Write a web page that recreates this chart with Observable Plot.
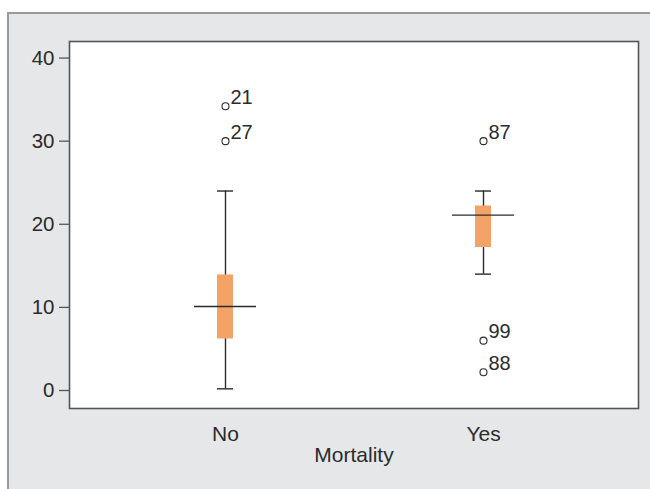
<!DOCTYPE html>
<html>
<head>
<meta charset="utf-8">
<script src="https://cdn.jsdelivr.net/npm/d3@7"></script>
<script src="https://cdn.jsdelivr.net/npm/@observablehq/plot@0.6"></script>
<style>
  html, body { margin: 0; padding: 0; background: white; }
  #wrap { position: relative; width: 650px; height: 489px; overflow: hidden; }
  #bg { position: absolute; left: 7px; top: 12px; right: -5px; bottom: -5px;
        background: #e6e7e9; border-top: 2px solid #9a9a9a; border-left: 2px solid #9a9a9a; }
  #chart { position: absolute; left: 0; top: 0; }
</style>
</head>
<body>
<div id="wrap"><div id="bg"></div><div id="chart"></div></div>
<script>
const groups = ["No", "Yes"];
const whiskerLow = [0.2, 14];
const q1 = [6.2, 17.2];
const median = [10.1, 21.1];
const q3 = [13.9, 22.2];
const whiskerHigh = [24, 24];

const outlierGroup = ["No", "No", "Yes", "Yes", "Yes"];
const outlierValue = [34.2, 30, 30, 6, 2.2];
const outlierLabel = ["21", "27", "87", "99", "88"];

const yTicks = [0, 10, 20, 30, 40];
const xTitle = "Mortality";

const stats = groups.map((g, i) => ({g, lo: whiskerLow[i], q1: q1[i], med: median[i], q3: q3[i], hi: whiskerHigh[i]}));
const outliers = outlierGroup.map((g, i) => ({g, v: outlierValue[i], label: outlierLabel[i]}));

const ink = "#2b2b2b";
const font = "Liberation Sans, Arial, Helvetica, sans-serif";

const chart = Plot.plot({
  width: 650,
  height: 489,
  marginLeft: 69,
  marginRight: 12,
  marginTop: 41,
  marginBottom: 81,
  style: {background: "transparent", fontFamily: font, color: ink},
  x: {type: "band", domain: groups, paddingInner: 0.938, paddingOuter: 0.5717},
  y: {domain: [-2.165, 41.99]},
  marks: [
    Plot.frame({fill: "white", stroke: "#555", strokeWidth: 1.6}),
    Plot.axisY({ticks: yTicks, tickSize: 10, tickPadding: 5, fontSize: 20.5, label: null, stroke: "#555", strokeWidth: 1.3, fill: ink}),
    Plot.axisX({tickSize: 0, tickPadding: 18, fontSize: 21, label: null, fill: ink}),
    Plot.text([xTitle], {frameAnchor: "bottom", text: d => d, dy: 53, fontSize: 21, fill: ink}),
    Plot.ruleX(stats, {x: "g", y1: "lo", y2: "hi", stroke: ink, strokeWidth: 1.4}),
    Plot.tickY(stats, {x: "g", y: "lo", stroke: ink, strokeWidth: 1.4}),
    Plot.tickY(stats, {x: "g", y: "hi", stroke: ink, strokeWidth: 1.4}),
    Plot.barY(stats, {x: "g", y1: "q1", y2: "q3", fill: "#f2a468"}),
    Plot.tickY(stats, {x: "g", y: "med", stroke: ink, strokeWidth: 1.4, insetLeft: -23, insetRight: -23}),
    Plot.dot(outliers, {x: "g", y: "v", r: 3.5, stroke: ink, strokeWidth: 1.1, fill: "white"}),
    Plot.text(outliers, {x: "g", y: "v", text: "label", dx: 5, dy: -9, textAnchor: "start", fontSize: 20, fill: ink})
  ]
});
document.getElementById("chart").appendChild(chart);
</script>
</body>
</html>
